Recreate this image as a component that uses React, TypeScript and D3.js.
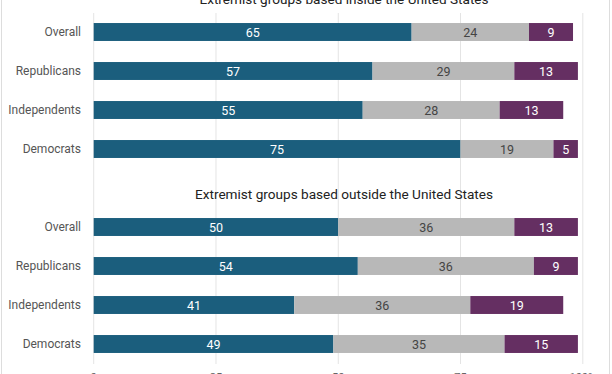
import { useEffect, useRef } from "react";
import * as d3 from "d3";

const groups = ["Overall", "Republicans", "Independents", "Democrats"];
const panelTitles = [
  "Extremist groups based inside the United States",
  "Extremist groups based outside the United States",
];
const seriesKeys = ["major", "minor", "none"];
// inside the US
const insideMajor = [65, 57, 55, 75];
const insideMinor = [24, 29, 28, 19];
const insideNone = [9, 13, 13, 5];
// outside the US
const outsideMajor = [50, 54, 41, 49];
const outsideMinor = [36, 36, 36, 35];
const outsideNone = [13, 9, 19, 15];
const tickValues = [0, 25, 50, 75, 100];

const colors: Record<string, string> = { major: "#1b5e7d", minor: "#b8b8b8", none: "#652f62" };
const textColors: Record<string, string> = { major: "#fff", minor: "#444", none: "#fff" };

function App() {
  const svgRef = useRef<SVGSVGElement | null>(null);

  useEffect(() => {
    const width = 612, height = 374;
    const svg = d3.select(svgRef.current!);
    svg.selectAll("*").remove();

    const x = d3.scaleLinear().domain([0, 100]).range([93.7, 582.8]);

    // frame
    svg.append("rect")
      .attr("x", 1.5).attr("y", -10).attr("width", width - 4).attr("height", height + 20)
      .attr("rx", 6).attr("fill", "none").attr("stroke", "#ddd").attr("stroke-width", 1);

    // gridlines
    svg.append("g").selectAll("line")
      .data(tickValues).enter().append("line")
      .attr("x1", d => x(d)).attr("x2", d => x(d))
      .attr("y1", 13).attr("y2", 364)
      .attr("stroke", "#e4e4e4").attr("stroke-width", 1);

    const panels = [
      { title: panelTitles[0], top: 32, rows: [insideMajor, insideMinor, insideNone] },
      { title: panelTitles[1], top: 227, rows: [outsideMajor, outsideMinor, outsideNone] },
    ];

    panels.forEach(p => {
      const y = d3.scaleBand().domain(groups)
        .range([p.top - 19.5, p.top - 19.5 + 39 * groups.length]).paddingInner(0.54).paddingOuter(0.27);
      const table = groups.map((g, i) => ({
        group: g, major: p.rows[0][i], minor: p.rows[1][i], none: p.rows[2][i],
      }));
      const stacked = d3.stack<any>().keys(seriesKeys)(table);

      svg.append("text")
        .attr("x", 344).attr("y", p.top - 28.5)
        .attr("text-anchor", "middle")
        .attr("font-family", "Roboto, sans-serif").attr("font-size", 13.6)
        .attr("fill", "#222")
        .text(p.title);

      const g = svg.append("g");
      stacked.forEach(s => {
        const layer = g.append("g");
        layer.selectAll("rect").data(s).enter().append("rect")
          .attr("x", d => x(d[0]))
          .attr("y", d => y(d.data.group)!)
          .attr("width", d => x(d[1]) - x(d[0]))
          .attr("height", y.bandwidth())
          .attr("fill", colors[s.key]);
        layer.selectAll("text").data(s).enter().append("text")
          .attr("x", d => (x(d[0]) + x(d[1])) / 2)
          .attr("y", d => y(d.data.group)! + y.bandwidth() / 2)
          .attr("dy", "0.36em")
          .attr("text-anchor", "middle")
          .attr("font-family", "Roboto, sans-serif").attr("font-size", 12.5)
          .attr("fill", textColors[s.key])
          .text(d => d[1] - d[0]);
      });

      g.selectAll("text.cat").data(groups).enter().append("text")
        .attr("class", "cat")
        .attr("x", 81)
        .attr("y", d => y(d)! + y.bandwidth() / 2)
        .attr("dy", "0.36em")
        .attr("text-anchor", "end")
        .attr("font-family", "Roboto, sans-serif").attr("font-size", 12)
        .attr("fill", "#555")
        .text(d => d);
    });

    // bottom axis labels
    svg.append("g").selectAll("text")
      .data(tickValues).enter().append("text")
      .attr("x", d => x(d)).attr("y", 381)
      .attr("text-anchor", "middle")
      .attr("font-family", "Roboto, sans-serif").attr("font-size", 11)
      .attr("fill", "#666")
      .text(d => d === 100 ? "100%" : String(d));
  }, []);

  return (
    <div style={{ position: "absolute", left: 0, top: 0, background: "#fff" }}>
      <svg ref={svgRef} width={612} height={374} style={{ display: "block" }}></svg>
    </div>
  );
}

export default App;
